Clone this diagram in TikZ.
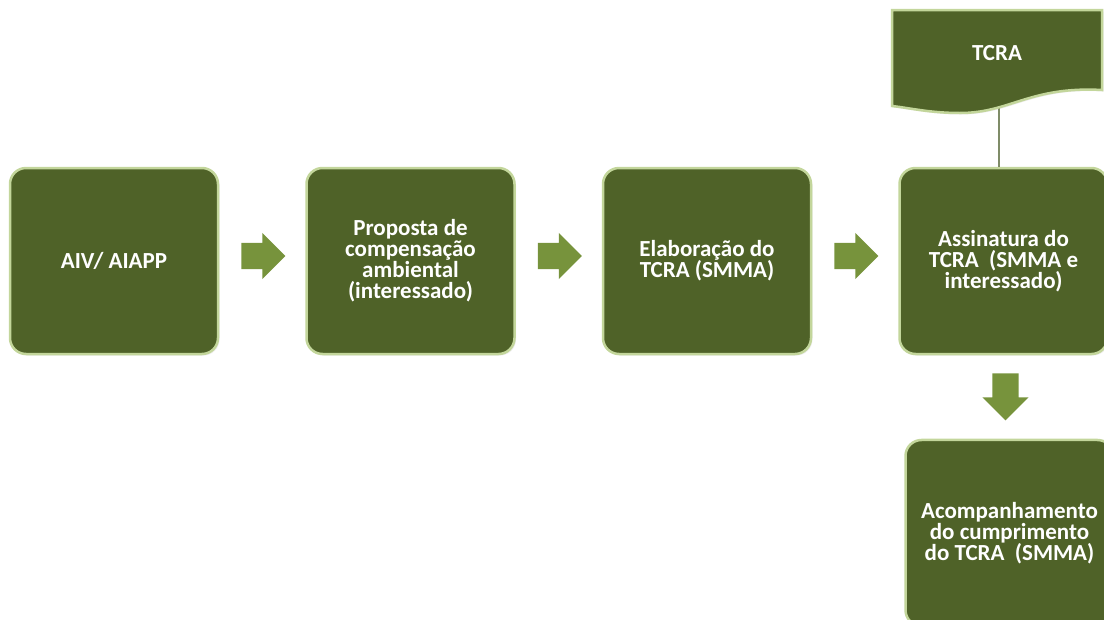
\documentclass[tikz,border=0pt]{standalone}
\usepackage{fontspec}
\setmainfont{Carlito}
\usetikzlibrary{positioning,shapes.arrows,shadows}
\definecolor{oliva}{HTML}{4F6228}
\definecolor{borda}{HTML}{C3D69B}
\definecolor{verdeseta}{HTML}{77933C}
\definecolor{fio}{HTML}{7F8C68}

\begin{document}
\begin{tikzpicture}[x=1pt, y=-1pt,
  every node/.style={font=\fontsize{23}{21}\selectfont\bfseries, text=white},
  etapa/.style={draw=borda, line width=2.5pt, fill=oliva, rounded corners=16pt,
    minimum width=208pt, minimum height=186pt, align=center, inner sep=0pt,
    drop shadow={opacity=0.15, shadow xshift=1.5pt, shadow yshift=-1.5pt}},
  flecha/.style={single arrow, fill=verdeseta, draw=none, minimum height=44pt,
    inner sep=13pt, single arrow head extend=10pt}]
  \useasboundingbox (0,0) rectangle (1104,619);
  \clip (0,0) rectangle (1104,619);

  % etapas
  \node[etapa] (aiv) at (114,261) {AIV/ AIAPP};
  \node[etapa, right=86pt of aiv] (prop) {Proposta de\\compensação\\ambiental\\(interessado)};
  \node[etapa, right=86pt of prop] (elab) {Elaboração do\\TCRA (SMMA)};
  \node[etapa, right=86pt of elab] (assin) {Assinatura do\\TCRA\ \ (SMMA e\\interessado)};

  % setas
  \node[flecha, right=22pt of aiv, yshift=5pt] (f1) {};
  \node[flecha, right=22pt of prop, yshift=5pt] (f2) {};
  \node[flecha, right=22pt of elab, yshift=5pt] (f3) {};
  \node[flecha, shape border rotate=270, minimum height=47pt, below=18pt of assin, xshift=2pt] (f4) {};

  \node[etapa, below=18pt of f4, xshift=4pt] (acomp) {Acompanhamento\\do cumprimento\\do TCRA\ \ (SMMA)};

  % documento TCRA
  \coordinate (docb) at (999,108);
  \draw[fio, line width=1.2pt] (docb) -- (docb |- assin.north);
  \draw[borda, line width=2.5pt, fill=oliva,
    drop shadow={opacity=0.15, shadow xshift=1.5pt, shadow yshift=-1.5pt}]
    (892,10) -- (1102,10) -- (1102,90)
    .. controls (1030,86) and (1010,113) .. (960,113)
    .. controls (930,113) and (910,108) .. (892,106) -- cycle;
  \node (tcra) at (997,53) {TCRA};
\end{tikzpicture}
\end{document}
